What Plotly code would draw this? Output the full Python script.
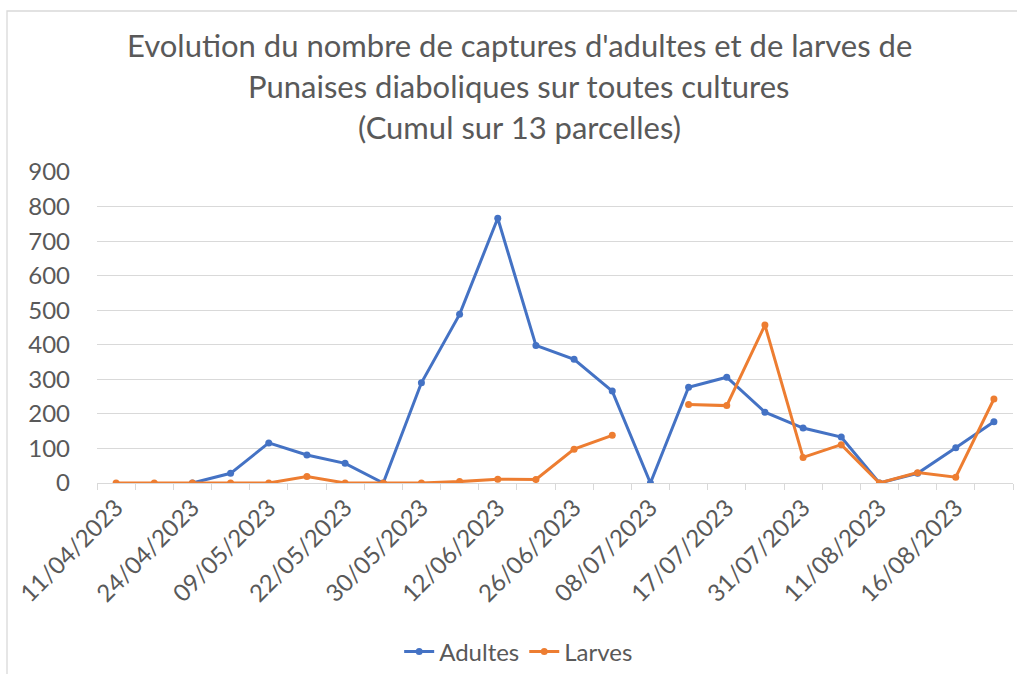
import plotly.graph_objects as go

# ---- data ----
dates = ["11/04/2023", "17/04/2023", "24/04/2023", "02/05/2023", "09/05/2023", "15/05/2023",
         "22/05/2023", "25/05/2023", "30/05/2023", "05/06/2023", "12/06/2023", "19/06/2023",
         "26/06/2023", "03/07/2023", "08/07/2023", "12/07/2023", "17/07/2023", "24/07/2023",
         "31/07/2023", "07/08/2023", "11/08/2023", "14/08/2023", "16/08/2023", "23/08/2023"]
shown_labels = ["11/04/2023", "24/04/2023", "09/05/2023", "22/05/2023", "30/05/2023", "12/06/2023",
                "26/06/2023", "08/07/2023", "17/07/2023", "31/07/2023", "11/08/2023", "16/08/2023"]
adultes = [None, None, 0, 28, 116, 81, 57, 0, 290, 488, 766, 398,
           358, 266, 0, 277, 306, 205, 159, 133, 0, 28, 102, 177]
larves = [0, 0, 0, 0, 0, 19, 0, 0, 0, 4, 11, 10,
          98, 138, None, 227, 224, 457, 74, 111, 0, 30, 17, 243]
title_lines = ["Evolution du nombre de captures d'adultes et de larves de",
               "Punaises diaboliques sur toutes cultures",
               "(Cumul sur 13 parcelles)"]

FONT = "Lato"
GREY = "#595959"
GRID = "#d9d9d9"

W, H = 1017, 674
L, R, T, B = 97, 4, 172, 191

fig = go.Figure()
fig.add_trace(go.Scatter(x=dates, y=adultes, name="Adultes", mode="lines+markers",
                         line=dict(color="#4472C4", width=3),
                         marker=dict(size=7, color="#4472C4"), connectgaps=False))
fig.add_trace(go.Scatter(x=dates, y=larves, name="Larves", mode="lines+markers",
                         line=dict(color="#ED7D31", width=3),
                         marker=dict(size=7, color="#ED7D31"), connectgaps=False))

ticktext = [d if d in shown_labels else "" for d in dates]

fig.update_layout(
    width=W, height=H,
    margin=dict(l=L, r=R, t=T, b=B),
    paper_bgcolor="white", plot_bgcolor="white",
    font=dict(family=FONT, color=GREY, size=24),
    showlegend=True,
    legend=dict(orientation="h", xref="container", yref="container",
                x=0.51, y=1 - 652 / H, xanchor="center", yanchor="middle",
                font=dict(size=24, color=GREY), itemwidth=30, tracegroupgap=0),
    xaxis=dict(type="category", categoryorder="array", categoryarray=dates,
               tickmode="array", tickvals=dates, ticktext=ticktext,
               tickson="boundaries", ticks="outside", ticklen=6, tickcolor=GRID,
               showline=True, linecolor=GRID, linewidth=1.3, showgrid=False,
               tickangle=-45, tickfont=dict(size=24, color=GREY),
               range=[-0.5, len(dates) - 0.5]),
    yaxis=dict(range=[0, 900], dtick=100, showgrid=True, gridcolor=GRID, gridwidth=1.3,
               zeroline=False, showline=False, ticks="", ticklabelstandoff=26,
               tickfont=dict(size=24, color=GREY)),
)

plot_h = H - T - B
def py2paper(py):
    return (H - B - py) / plot_h

for txt, ypix in zip(title_lines, [45, 86, 127]):
    fig.add_annotation(text=txt, xref="paper", yref="paper",
                       x=(519 - L) / (W - L - R), y=py2paper(ypix),
                       xanchor="center", yanchor="middle", showarrow=False,
                       font=dict(family=FONT, size=31, color=GREY))

# chart border (Excel chart area outline)
fig.add_shape(type="rect", xref="paper", yref="paper",
              x0=(7 - L) / (W - L - R), x1=1.2, y0=-1.0, y1=py2paper(11),
              line=dict(color=GRID, width=1.3), fillcolor="rgba(0,0,0,0)", layer="below")

fig.write_html("out.html", config={"displayModeBar": False},
               post_script="document.body.style.margin='0';document.body.style.overflow='hidden';")
